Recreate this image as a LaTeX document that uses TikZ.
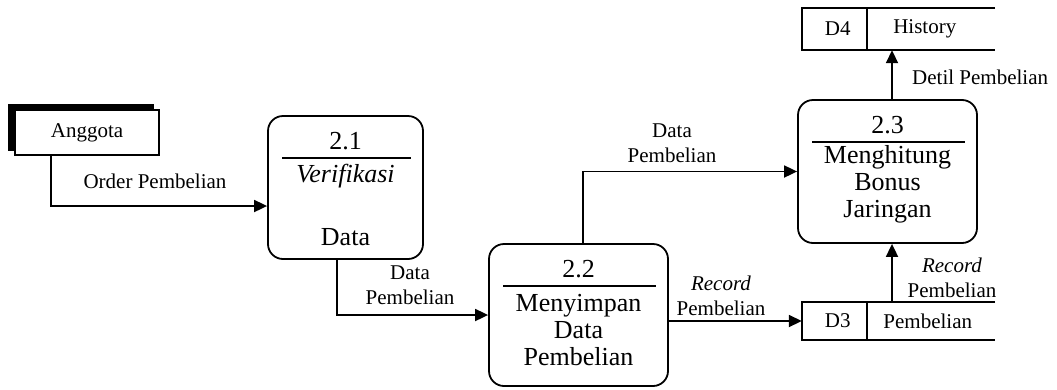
\documentclass[tikz,border=0pt]{standalone}
\usepackage{fontspec}
\setmainfont{Liberation Serif}
\usetikzlibrary{arrows.meta,calc,shadows}

\newcommand{\lblfont}{\fontsize{21}{25.5}\selectfont}
\newcommand{\procfont}{\fontsize{26}{27}\selectfont}

\begin{document}
\begin{tikzpicture}
[x=1pt,y=-1pt,
process/.style={draw,line width=1.8pt,rounded corners=15pt,inner sep=0pt,minimum width=179pt,minimum height=143pt},
entity/.style={draw,line width=1.5pt,fill=white,inner sep=0pt,minimum width=144pt,minimum height=45pt,font=\lblfont,
  copy shadow={shadow xshift=-6pt,shadow yshift=5pt,fill=black,draw=black,opacity=1}},
store/.style={inner sep=0pt,minimum width=193pt,minimum height=42pt},
storeline/.style={line width=1.5pt},
flow/.style={line width=1.8pt,-{Triangle[length=13pt,width=12pt]}},
lbl/.style={font=\lblfont,align=center,inner sep=0pt},
ptext/.style={font=\procfont,align=center,inner sep=0pt},
rule/.style={line width=1.8pt}]

\useasboundingbox (0,0) rectangle (1057,389);

%external entity
\node[entity] (ang) at (87,132.5) {Anggota};

%the processes
\node[process,minimum width=155pt] (p21) at (345.5,187.5) {};
\node[process,minimum height=142pt] (p22) at (578.5,315) {};
\node[process] (p23) at (887.5,171.5) {};

\node[ptext] (n21) at ($(p21.north)+(0,26)$) {2.1};
\draw[rule] ($(p21.north west)+(15,43)$) -- ($(p21.north east)+(-13,43)$);
\node[ptext] (t21) at ($(p21.north)+(0,61)$) {\textit{Verifikasi}};
\node[ptext] (u21) at ($(p21.north)+(0,122)$) {Data};

\node[ptext] (n22) at ($(p22.north)+(0,26)$) {2.2};
\draw[rule] ($(p22.north west)+(15,43)$) -- ($(p22.north east)+(-13,43)$);
\node[ptext] (t22) at ($(p22.north)+(0,87)$) {Menyimpan\\Data\\Pembelian};

\node[ptext] (n23) at ($(p23.north)+(0,26)$) {2.3};
\draw[rule] ($(p23.north west)+(15,43)$) -- ($(p23.north east)+(-13,43)$);
\node[ptext] (t23) at ($(p23.north)+(0,85)$) {Menghitung\\Bonus\\Jaringan};

%data stores
\node[store] (d4) at (898.5,29) {};
\draw[storeline] (d4.north east) -- (d4.north west) -- (d4.south west) -- (d4.south east);
\draw[storeline] ($(d4.north west)+(65,0)$) -- ($(d4.south west)+(65,0)$);
\node[lbl] (d4id) at ($(d4.west)+(36,0)$) {D4};
\node[lbl] (d4name) at ($(d4.west)+(123,0)$) {History};

\node[store,minimum height=38pt] (d3) at (898.5,321) {};
\draw[storeline] (d3.north east) -- (d3.north west) -- (d3.south west) -- (d3.south east);
\draw[storeline] ($(d3.north west)+(65,0)$) -- ($(d3.south west)+(65,0)$);
\node[lbl] (d3id) at ($(d3.west)+(36,0)$) {D3};
\node[lbl] (d3name) at ($(d3.west)+(126,0)$) {Pembelian};

%data flows
\coordinate (up3) at ($(p23.south)+(4.5,0)$);
\coordinate (up4) at ($(p23.north)+(4.5,0)$);

\draw[flow] ($(ang.south west)+(37,0)$) |- ($(p21.west)+(0,18.5)$);
\draw[flow] ($(p21.south)+(-8.5,0)$) |- (p22.west);
\draw[flow] ($(p22.north)+(4.5,0)$) |- (p23.west);
\draw[flow] (p22.east |- d3.west) -- (d3.west);
\draw[flow] (d3.north -| up3) -- (up3);
\draw[flow] (up4) -- (d4.south -| up4);

%flow labels
\node[lbl] (l1) at (155,181) {Order Pembelian};
\node[lbl] (l2) at (410,285) {Data\\Pembelian};
\node[lbl] (l3) at (672,143) {Data\\Pembelian};
\node[lbl] (l4) at (721,296) {\textit{Record}\\Pembelian};
\node[lbl] (l5) at (952,278) {\textit{Record}\\Pembelian};
\node[lbl,anchor=west] (l6) at (912,77) {Detil Pembelian};

\end{tikzpicture}
\end{document}
